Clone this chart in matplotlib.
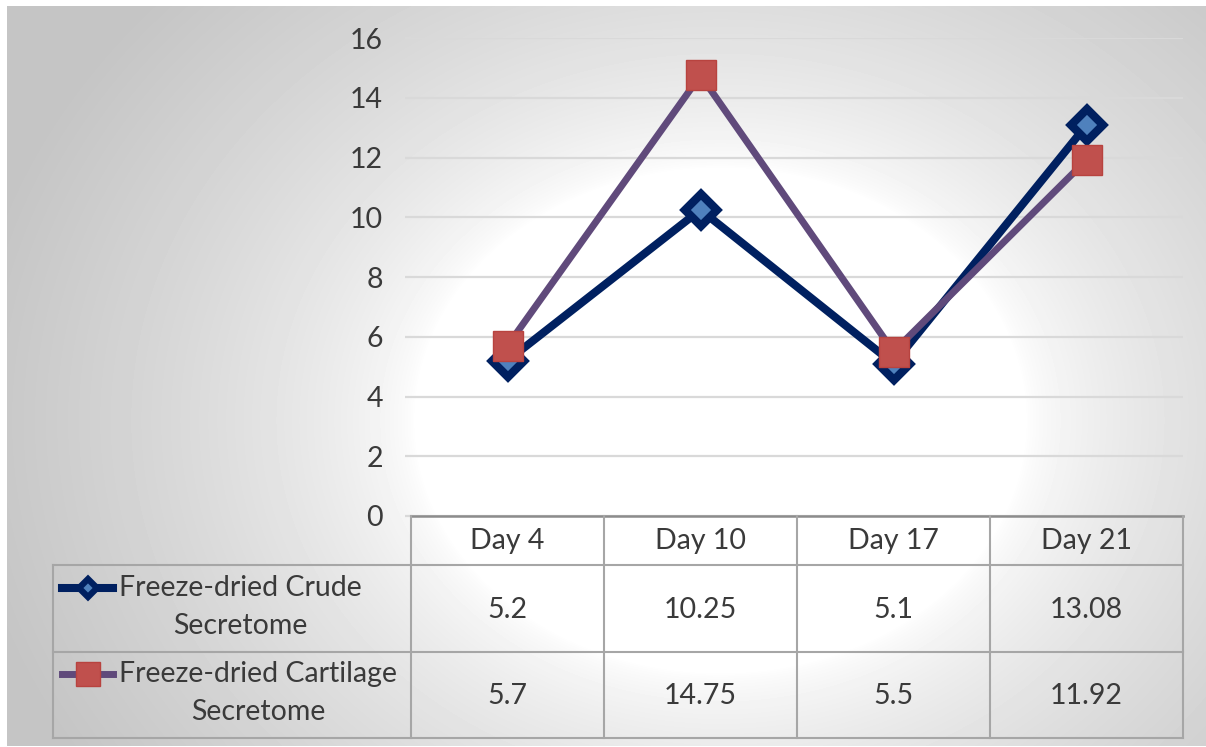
import numpy as np
import matplotlib
matplotlib.use('Agg')
import matplotlib.pyplot as plt
from matplotlib.lines import Line2D

# data
days = ['Day 4', 'Day 10', 'Day 17', 'Day 21']
crude = [5.2, 10.25, 5.1, 13.08]
cartilage = [5.7, 14.75, 5.5, 11.92]
crude_label = 'Freeze-dried Crude\nSecretome'
cartilage_label = 'Freeze-dried Cartilage\nSecretome'
y_ticks = [0, 2, 4, 6, 8, 10, 12, 14, 16]

plt.rcParams['font.family'] = ['Lato', 'DejaVu Sans']
TXT = '#3a3a3a'
GRID = '#d9d9d9'
TBL = '#a6a6a6'
NAVY = '#002060'
LBLUE = '#4f81bd'
PURPLE = '#604a7b'
RED = '#c0504d'
FS = 20.5

W, H = 1206, 747
fig = plt.figure(figsize=(W / 100, H / 100), dpi=100)


def rect(x0, y0, x1, y1):
    # pixel box (top-left origin) -> figure fraction
    return [x0 / W, 1 - y1 / H, (x1 - x0) / W, (y1 - y0) / H]


# radial grey background
bg = fig.add_axes(rect(7, 6, W, 746), zorder=-10)
xx, yy = np.meshgrid(np.arange(7, W), np.arange(6, 746))
d = np.hypot((xx - 720) * 0.95, (yy - 420) * 1.15)
t = np.clip((d - 290) / 430, 0, 1) ** 0.65
grey = 255 - 58 * t
bg.imshow(grey, cmap='gray', vmin=0, vmax=255, aspect='auto', interpolation='bilinear')
bg.axis('off')

# main chart
ax = fig.add_axes(rect(411, 38, 1183, 516))
ax.patch.set_visible(False)
x = np.arange(len(days))
ax.plot(x, crude, color=NAVY, lw=5.8, marker='D', ms=16, mfc=LBLUE, mec=NAVY, mew=6,
        solid_joinstyle='round', zorder=3)
ax.plot(x, cartilage, color=PURPLE, lw=5, marker='s', ms=21, mfc=RED, mec='#b8433f', mew=1,
        solid_joinstyle='round', zorder=4)
ax.set_xlim(-0.5, len(days) - 0.5)
ax.set_ylim(0, 16)
ax.set_yticks(y_ticks)
ax.yaxis.grid(True, color=GRID, lw=1.6)
ax.set_axisbelow(True)
ax.set_xticks([])
for s in ['top', 'right', 'left']:
    ax.spines[s].set_visible(False)
ax.spines['bottom'].set_color('#8c8c8c')
ax.spines['bottom'].set_linewidth(1.8)
ax.tick_params(axis='y', length=4.3, width=1.6, color=GRID, pad=16, labelsize=FS, labelcolor=TXT)

# data table under the chart, drawn in pixel space
ov = fig.add_axes([0, 0, 1, 1], zorder=5)
ov.set_xlim(0, W)
ov.set_ylim(H, 0)
ov.axis('off')

cols = [411, 604, 797, 990, 1183]
rows = [516, 565, 652, 738]
for cx in cols:
    ov.plot([cx, cx], [rows[0], rows[-1]], color=TBL, lw=1.5)
ov.plot([53, 53], [rows[1], rows[-1]], color=TBL, lw=1.5)
for ry in rows[1:]:
    ov.plot([53, cols[-1]], [ry, ry], color=TBL, lw=1.5)

for i, day in enumerate(days):
    cx = (cols[i] + cols[i + 1]) / 2
    ov.text(cx, (rows[0] + rows[1]) / 2 + 1, day, ha='center', va='center', fontsize=FS, color=TXT)
    ov.text(cx, (rows[1] + rows[2]) / 2 + 1, f'{crude[i]:g}', ha='center', va='center',
            fontsize=FS, color=TXT)
    ov.text(cx, (rows[2] + rows[3]) / 2 + 1, f'{cartilage[i]:g}', ha='center', va='center',
            fontsize=FS, color=TXT)

# legend keys + series names
ov.add_line(Line2D([62, 113], [588, 588], color=NAVY, lw=5.8))
ov.add_line(Line2D([88], [588], marker='D', ms=9, mfc=LBLUE, mec=NAVY, mew=4.5, color=NAVY))
ov.text(119, 607, crude_label, ha='left', va='center', multialignment='center',
        fontsize=FS, color=TXT, linespacing=1.6)
ov.add_line(Line2D([62, 113], [674, 674], color=PURPLE, lw=5))
ov.add_line(Line2D([88], [674], marker='s', ms=17, mfc=RED, mec='#b8433f', mew=1, color=PURPLE))
ov.text(119, 693, cartilage_label, ha='left', va='center', multialignment='center',
        fontsize=FS, color=TXT, linespacing=1.6)

fig.savefig('out.png', dpi=100)
